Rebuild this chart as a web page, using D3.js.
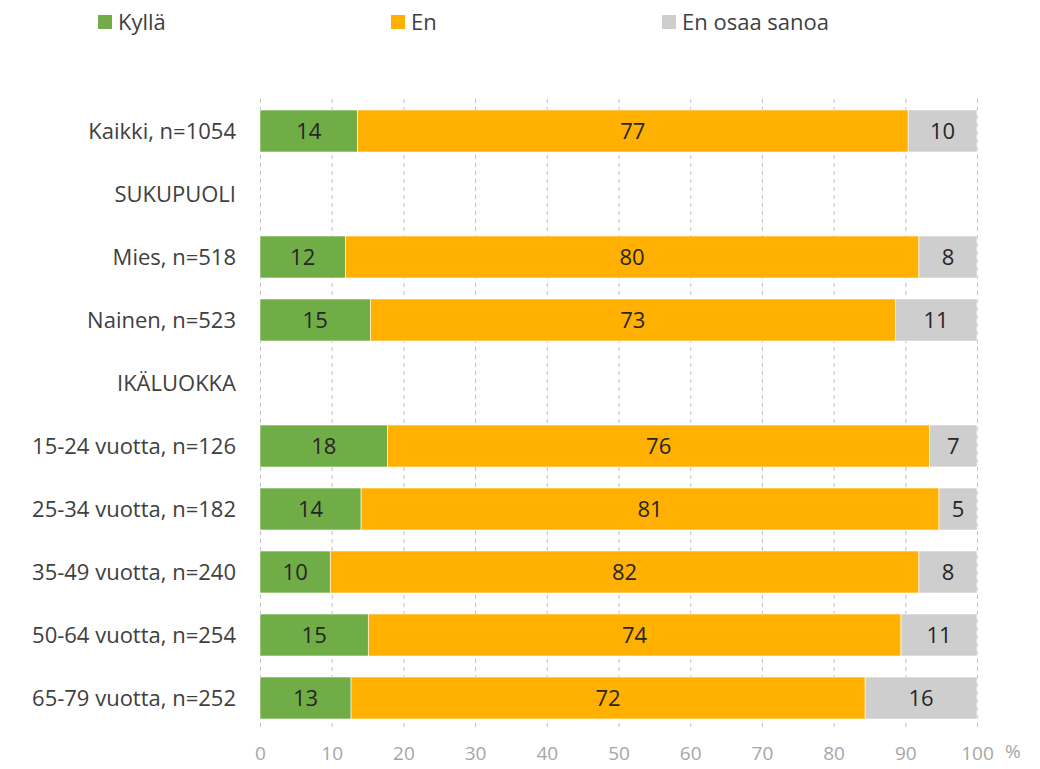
<!DOCTYPE html>
<html>
<head>
<meta charset="utf-8">
<script src="https://cdn.jsdelivr.net/npm/d3@7"></script>
<style>
    body { margin: 0; background: #fff; }
    svg { display: block; font-family: "Open Sans", sans-serif; }
</style>
</head>
<body>
<script>
const categories = [
    'Kaikki, n=1054', 'SUKUPUOLI', 'Mies, n=518', 'Nainen, n=523', 'IKÄLUOKKA',
    '15-24 vuotta, n=126', '25-34 vuotta, n=182', '35-49 vuotta, n=240',
    '50-64 vuotta, n=254', '65-79 vuotta, n=252'
];
const seriesNames = ['Kyllä', 'En', 'En osaa sanoa'];
// null = heading row without a bar
const kylla = [13.6, null, 11.9, 15.4, null, 17.8, 14.1, 9.8, 15.1, 12.7];
const en = [76.8, null, 80.0, 73.2, null, 75.6, 80.6, 82.1, 74.3, 71.7];
const eos = [9.6, null, 8.1, 11.4, null, 6.6, 5.3, 8.1, 10.6, 15.6];
const xTicks = [0, 10, 20, 30, 40, 50, 60, 70, 80, 90, 100];
const colors = ['#70ad47', '#ffb000', '#cecece'];

const width = 1040;
const height = 769;

const svg = d3.select('body')
    .append('svg')
    .attr('width', width)
    .attr('height', height);

const x = d3.scaleLinear()
    .domain([0, 100])
    .range([260, 977]);

const y = d3.scaleBand()
    .domain(categories)
    .range([99.5, 729.5])
    .paddingInner(1 / 3)
    .paddingOuter(1 / 6);

// dashed vertical gridlines
svg.append('g')
    .selectAll('line')
    .data(xTicks)
    .join('line')
    .attr('x1', d => x(d) + 0.5)
    .attr('x2', d => x(d) + 0.5)
    .attr('y1', 99)
    .attr('y2', 729)
    .attr('stroke', '#bfbfbf')
    .attr('stroke-width', 1)
    .attr('stroke-dasharray', '4,4');

const rows = categories.map((c, i) => ({ cat: c, vals: [kylla[i], en[i], eos[i]] }))
    .filter(r => r.vals[0] !== null);

const segs = [];
rows.forEach(r => {
    let acc = 0;
    r.vals.forEach((v, k) => {
        segs.push({ cat: r.cat, k, v, x0: acc, x1: acc + v });
        acc += v;
    });
});

svg.append('g')
    .selectAll('rect')
    .data(segs)
    .join('rect')
    .attr('x', d => x(d.x0))
    .attr('y', d => y(d.cat))
    .attr('width', d => x(d.x1) - x(d.x0))
    .attr('height', y.bandwidth())
    .attr('fill', d => colors[d.k])
    .attr('stroke', '#fff')
    .attr('stroke-width', 0.6);

svg.append('g')
    .selectAll('text')
    .data(segs)
    .join('text')
    .attr('x', d => x((d.x0 + d.x1) / 2))
    .attr('y', d => y(d.cat) + y.bandwidth() / 2)
    .attr('dy', '0.36em')
    .attr('text-anchor', 'middle')
    .attr('font-size', 22)
    .attr('fill', '#262626')
    .text(d => Math.round(d.v));

// category axis
const yAxis = svg.append('g')
    .attr('transform', 'translate(236,0)')
    .call(d3.axisLeft(y).tickSize(0).tickPadding(0));
yAxis.select('.domain').remove();
yAxis.selectAll('text')
    .attr('font-size', 22)
    .attr('font-family', '"Open Sans", sans-serif')
    .attr('fill', '#404040')
    .attr('dy', '0.36em');

// value axis
const xAxis = svg.append('g')
    .attr('transform', 'translate(0,729)')
    .call(d3.axisBottom(x).tickValues(xTicks).tickSize(0).tickPadding(18));
xAxis.select('.domain').remove();
xAxis.selectAll('text')
    .attr('font-size', 19)
    .attr('font-family', '"Open Sans", sans-serif')
    .attr('fill', '#a6a6a6');

svg.append('text')
    .attr('x', 1005)
    .attr('y', 758)
    .attr('font-size', 19)
    .attr('fill', '#a6a6a6')
    .text('%');

// legend
const legendX = [98, 391, 662];
const legend = svg.append('g')
    .selectAll('g')
    .data(seriesNames)
    .join('g')
    .attr('transform', (d, i) => `translate(${legendX[i]},15)`);

legend.append('rect')
    .attr('width', 14)
    .attr('height', 14)
    .attr('fill', (d, i) => colors[i]);

legend.append('text')
    .attr('x', 20)
    .attr('y', 7)
    .attr('dy', '0.36em')
    .attr('font-size', 22)
    .attr('fill', '#404040')
    .text(d => d);
</script>
</body>
</html>
